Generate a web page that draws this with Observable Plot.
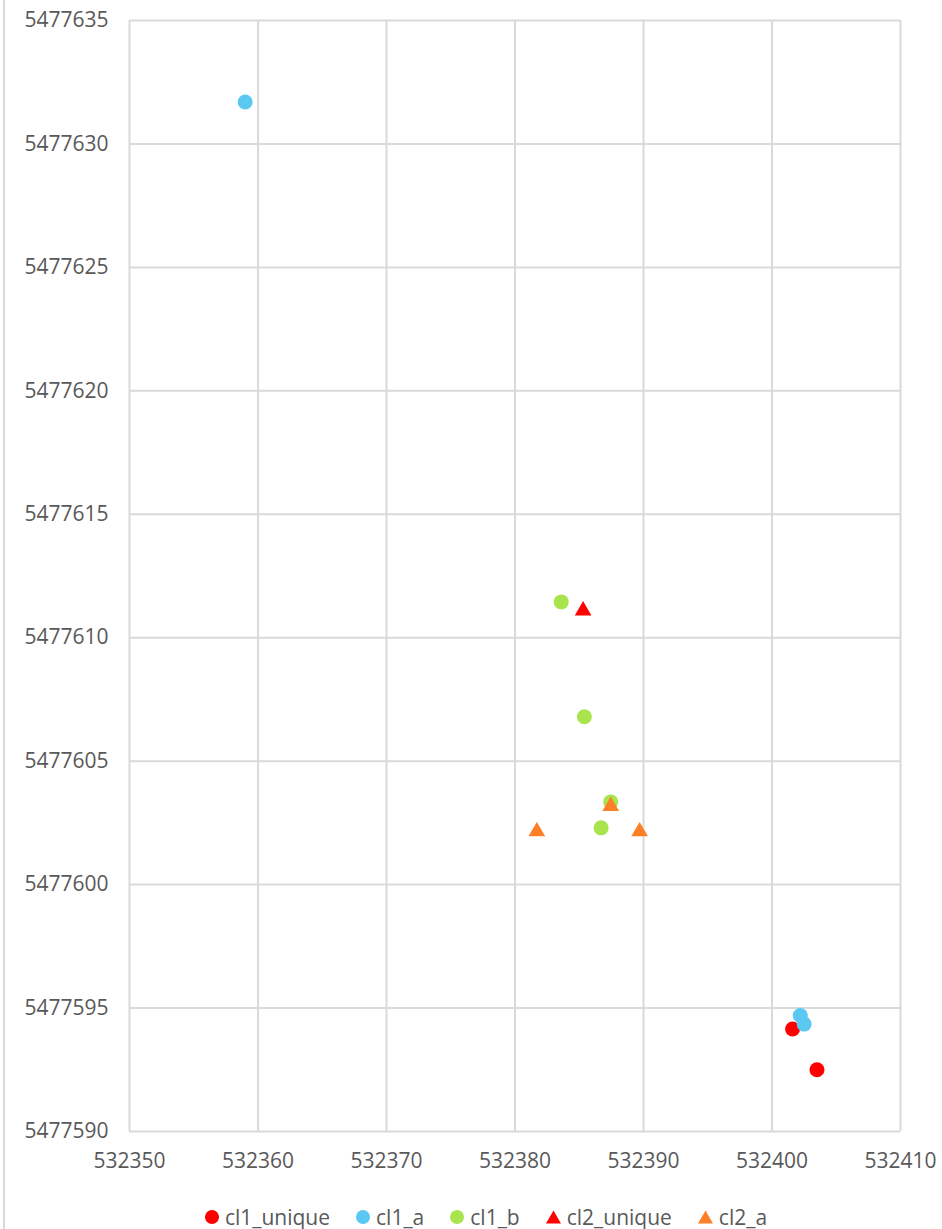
<!DOCTYPE html>
<html>
<head>
<meta charset="utf-8">
<script src="https://cdn.jsdelivr.net/npm/d3@7"></script>
<script src="https://cdn.jsdelivr.net/npm/@observablehq/plot@0.6"></script>
<style>
  html, body { margin: 0; padding: 0; background: #fff; }
  body { width: 942px; height: 1229px; position: relative; overflow: hidden; font-family: "Open Sans", sans-serif; }
  #border { position: absolute; left: 3px; top: 0; width: 2px; height: 1229px; background: #d9d9d9; }
  #chart svg { display: block; }
  #legend { display: flex; justify-content: center; align-items: center; height: 39px; padding-left: 30px; box-sizing: border-box; padding-top: 14px;
            font-size: 21px; color: #595959; }
  .item { display: flex; align-items: center; margin: 0 13px; }
  .item svg { margin-right: 6px; }
</style>
</head>
<body>
<div id="border"></div>
<div id="chart"></div>
<div id="legend"></div>
<script>
// Series names and colours
const seriesNames = ["cl1_unique", "cl1_a", "cl1_b", "cl2_unique", "cl2_a"];
const seriesColors = ["#ff0000", "#5bc8f2", "#a8e44e", "#ff0000", "#fd7f26"];
const seriesSymbols = ["circle", "circle", "circle", "triangle", "triangle"];

// Data
const cl1_unique_x = [532401.6, 532403.5];
const cl1_unique_y = [5477594.15, 5477592.5];
const cl1_a_x = [532359.0, 532402.2, 532402.5];
const cl1_a_y = [5477631.7, 5477594.7, 5477594.35];
const cl1_b_x = [532383.6, 532385.4, 532387.45, 532386.7];
const cl1_b_y = [5477611.45, 5477606.8, 5477603.35, 5477602.3];
const cl2_unique_x = [532385.3];
const cl2_unique_y = [5477611.1];
const cl2_a_x = [532381.7, 532387.45, 532389.7];
const cl2_a_y = [5477602.15, 5477603.18, 5477602.15];

// Tick labels
const xTicks = [532350, 532360, 532370, 532380, 532390, 532400, 532410];
const yTicks = [5477590, 5477595, 5477600, 5477605, 5477610, 5477615, 5477620, 5477625, 5477630, 5477635];

const seriesX = [cl1_unique_x, cl1_a_x, cl1_b_x, cl2_unique_x, cl2_a_x];
const seriesY = [cl1_unique_y, cl1_a_y, cl1_b_y, cl2_unique_y, cl2_a_y];

const rows = [];
seriesNames.forEach((s, i) => {
  seriesX[i].forEach((x, j) => rows.push({series: s, x, y: seriesY[i][j], order: i}));
});

const fmt = d => String(d);
const gridStyle = {stroke: "#d9d9d9", strokeOpacity: 1, strokeWidth: 2};

const chart = Plot.plot({
  width: 942,
  height: 1190,
  marginTop: 20,
  marginLeft: 129,
  marginRight: 42,
  marginBottom: 59,
  style: {fontFamily: "'Open Sans', sans-serif", fontSize: "21px", color: "#595959", background: "transparent"},
  x: {domain: [532350, 532410]},
  y: {domain: [5477590, 5477635]},
  color: {domain: seriesNames, range: seriesColors},
  marks: [
    Plot.gridX(xTicks, gridStyle),
    Plot.gridY(yTicks, gridStyle),
    Plot.axisX(xTicks, {tickSize: 0, tickPadding: 22, tickFormat: fmt, label: null}),
    Plot.axisY(yTicks, {tickSize: 0, tickPadding: 21, tickFormat: fmt, label: null}),
    ...seriesNames.map((s, i) => Plot.dot(rows.filter(r => r.series === s), {
      x: "x", y: "y",
      fill: "series",
      symbol: () => seriesSymbols[i],
      r: seriesSymbols[i] === "circle" ? 7.5 : 6.2,
      stroke: null
    }))
  ]
});
document.getElementById("chart").appendChild(chart);

// Legend
const legend = document.getElementById("legend");
seriesNames.forEach((s, i) => {
  const item = document.createElement("div");
  item.className = "item";
  const sym = seriesSymbols[i] === "circle"
    ? `<svg width="14" height="14"><circle cx="7" cy="7" r="7" fill="${seriesColors[i]}"/></svg>`
    : `<svg width="15" height="14"><path d="M7.5,0.5 L15,13.5 L0,13.5 Z" fill="${seriesColors[i]}"/></svg>`;
  item.innerHTML = sym + `<span>${s}</span>`;
  legend.appendChild(item);
});
</script>
</body>
</html>
